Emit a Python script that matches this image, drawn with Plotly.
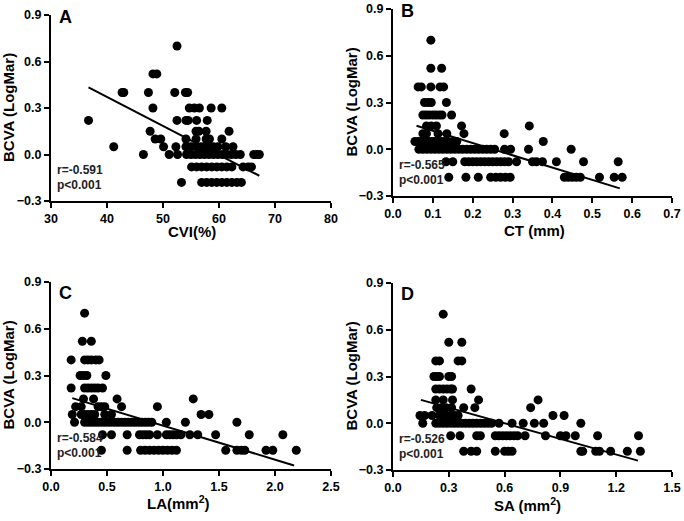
import plotly.graph_objects as go

# BCVA levels (LogMar) shared by all panels
levels = [0.70, 0.52, 0.40, 0.30, 0.22, 0.15, 0.10, 0.05, 0.00, -0.08, -0.18]

# Panel A: CVI (%) x-values for each BCVA level
cvi_by_level = [
    [52.5],
    [48.2, 48.9],
    [42.7, 43.0, 47.4, 52.1, 54.0, 54.4],
    [48.2, 54.7, 55.6, 56.5, 58.6, 60.5],
    [36.7, 52.5, 54.1, 54.5, 56.0, 57.9],
    [47.7, 55.9, 56.4, 57.7, 61.8],
    [48.6, 49.6, 54.1, 55.9, 57.7, 58.3, 60.5],
    [41.2, 50.1, 52.3, 54.1, 55.0, 56.0, 56.8, 57.5, 58.3, 59.0, 59.8, 61.2, 62.5],
    [46.5, 51.1, 52.6, 54.2, 55.0, 55.8, 56.6, 57.4, 58.2, 59.0, 59.8, 60.6, 61.4,
     62.2, 63.0, 63.8, 66.2, 66.7, 67.2],
    [55.1, 56.0, 56.9, 57.8, 58.7, 59.6, 60.5, 61.4, 62.3, 64.3, 65.2, 65.8],
    [53.3, 56.9, 57.8, 58.7, 59.6, 60.5, 61.4, 62.3, 63.2, 64.0],
]
# Panel B: CT (mm)
ct_by_level = [
    [0.095],
    [0.095, 0.122],
    [0.063, 0.071, 0.095, 0.118, 0.127],
    [0.079, 0.088, 0.096, 0.134],
    [0.075, 0.083, 0.091, 0.100, 0.108, 0.116, 0.123, 0.147],
    [0.084, 0.096, 0.109, 0.172, 0.342],
    [0.075, 0.084, 0.113, 0.135, 0.178, 0.279],
    [0.055, 0.064, 0.072, 0.080, 0.088, 0.097, 0.105, 0.113, 0.122, 0.130, 0.138,
     0.150, 0.160, 0.377],
    [0.065, 0.075, 0.085, 0.095, 0.105, 0.115, 0.125, 0.135, 0.145, 0.155, 0.165,
     0.175, 0.185, 0.195, 0.205, 0.215, 0.225, 0.235, 0.245, 0.255, 0.280, 0.295,
     0.340, 0.447],
    [0.133, 0.150, 0.180, 0.190, 0.200, 0.210, 0.220, 0.230, 0.240, 0.250, 0.260,
     0.270, 0.280, 0.290, 0.310, 0.350, 0.360, 0.375, 0.410, 0.478, 0.565],
    [0.140, 0.183, 0.214, 0.245, 0.258, 0.270, 0.282, 0.294, 0.430, 0.440, 0.450,
     0.460, 0.470, 0.518, 0.555, 0.575],
]
# Panel C: LA (mm^2)
la_by_level = [
    [0.30],
    [0.28, 0.36],
    [0.18, 0.30, 0.33, 0.36, 0.40, 0.43],
    [0.26, 0.29, 0.32, 0.49],
    [0.18, 0.30, 0.33, 0.36, 0.39, 0.42, 0.46],
    [0.29, 0.38, 0.59, 1.27],
    [0.22, 0.27, 0.42, 0.45, 0.48, 0.63, 0.95],
    [0.19, 0.27, 0.30, 0.33, 0.36, 0.39, 0.48, 0.54, 1.34, 1.41],
    [0.21, 0.30, 0.33, 0.36, 0.39, 0.42, 0.45, 0.48, 0.51, 0.54, 0.57, 0.60, 0.63,
     0.66, 0.69, 0.72, 0.75, 0.78, 0.81, 0.84, 0.87, 0.90, 1.03, 1.20, 1.66],
    [0.46, 0.54, 0.68, 0.79, 0.82, 0.85, 0.88, 0.95, 1.03, 1.06, 1.09, 1.12, 1.16,
     1.24, 1.31, 1.47, 1.77, 2.07],
    [0.45, 0.68, 0.80, 0.84, 0.88, 0.92, 0.96, 1.00, 1.04, 1.08, 1.12, 1.56, 1.66,
     1.70, 1.73, 1.92, 1.98, 2.19],
]
# Panel D: SA (mm^2)
sa_by_level = [
    [0.27],
    [0.30, 0.37],
    [0.23, 0.25, 0.35, 0.37],
    [0.22, 0.235, 0.25, 0.30, 0.315],
    [0.23, 0.25, 0.27, 0.29, 0.31, 0.32, 0.42],
    [0.23, 0.27, 0.32, 0.46, 0.78],
    [0.235, 0.26, 0.285, 0.315, 0.38, 0.44, 0.74],
    [0.145, 0.17, 0.21, 0.25, 0.27, 0.29, 0.31, 0.33, 0.35, 0.86, 0.92],
    [0.16, 0.23, 0.25, 0.27, 0.29, 0.31, 0.33, 0.35, 0.37, 0.39, 0.41, 0.43, 0.45,
     0.47, 0.49, 0.51, 0.53, 0.57, 0.64, 0.70, 0.76, 0.81, 1.01],
    [0.31, 0.36, 0.45, 0.47, 0.55, 0.57, 0.59, 0.61, 0.63, 0.65, 0.67, 0.71, 0.82,
     0.90, 0.93, 0.98, 1.10, 1.32],
    [0.38, 0.42, 0.45, 0.55, 0.60, 0.62, 0.64, 1.01, 1.02, 1.09, 1.11, 1.17, 1.26,
     1.33],
]

# Regression line end points
fit_a_x, fit_a_y = [36.7, 67.2], [0.433, -0.137]
fit_b_x, fit_b_y = [0.059, 0.569], [0.151, -0.251]
fit_c_x, fit_c_y = [0.19, 2.17], [0.155, -0.277]
fit_d_x, fit_d_y = [0.15, 1.317], [0.15, -0.24]

panel_letters = ["A", "B", "C", "D"]
y_title = "BCVA (LogMar)"
x_titles = ["CVI(%)", "CT (mm)", "LA(mm<sup>2</sup>)", "SA (mm<sup>2</sup>)"]
stats_r = ["r=-0.591", "r=-0.565", "r=-0.584", "r=-0.526"]
stats_p = ["p<0.001", "p<0.001", "p<0.001", "p<0.001"]
x_ranges = [[30, 80], [0, 0.7], [0, 2.5], [0, 1.5]]
x_dticks = [10, 0.1, 0.5, 0.3]
x_formats = ["d", ".1f", ".1f", ".1f"]

W, H = 684, 521
# plot areas in pixels (left, right, top, bottom)
areas = [(51, 331, 15, 201), (393, 672, 9, 196), (51, 331, 282, 469), (393, 672, 283, 470)]
# pixel positions of y-title centre x, x-title centre (x, y)
ytitle_px = [8, 351, 8, 351]
xtitle_px = [(192, 232), (534, 230), (178, 502), (527, 504)]

FONT = "Arial, 'Liberation Sans', sans-serif"

fig = go.Figure()
data_sets = [cvi_by_level, ct_by_level, la_by_level, sa_by_level]
fits = [(fit_a_x, fit_a_y), (fit_b_x, fit_b_y), (fit_c_x, fit_c_y), (fit_d_x, fit_d_y)]

for i in range(4):
    xs, ys = [], []
    for lv, row in zip(levels, data_sets[i]):
        xs.extend(row)
        ys.extend([lv] * len(row))
    ax = "x" if i == 0 else f"x{i+1}"
    ay = "y" if i == 0 else f"y{i+1}"
    fig.add_trace(go.Scatter(x=xs, y=ys, mode="markers", xaxis=ax, yaxis=ay,
                             marker=dict(color="black", size=9, line=dict(width=0)),
                             showlegend=False, cliponaxis=False))
    fig.add_trace(go.Scatter(x=fits[i][0], y=fits[i][1], mode="lines", xaxis=ax, yaxis=ay,
                             line=dict(color="black", width=2), showlegend=False))

layout = dict(width=W, height=H, margin=dict(l=0, r=0, t=0, b=0, autoexpand=False),
              paper_bgcolor="white", plot_bgcolor="white",
              font=dict(family=FONT, color="black"))
annotations = []
for i in range(4):
    l, r, t, b = areas[i]
    xd = [l / W, r / W]
    yd = [1 - b / H, 1 - t / H]
    sfx = "" if i == 0 else str(i + 1)
    common = dict(showline=True, linecolor="black", linewidth=2, ticks="outside", ticklen=5,
                  tickwidth=2, tickcolor="black", showgrid=False, zeroline=False,
                  automargin=False, tickfont=dict(size=12.5, weight="bold", family=FONT))
    layout["xaxis" + sfx] = dict(domain=xd, range=x_ranges[i], dtick=x_dticks[i], tick0=0,
                                 tickformat=x_formats[i], anchor="y" + sfx, **common)
    layout["yaxis" + sfx] = dict(domain=yd, range=[-0.3, 0.9], dtick=0.3, tick0=0,
                                 tickformat=".1f", anchor="x" + sfx, **common)
    xr = ("x" + sfx) + " domain"
    yr = ("y" + sfx) + " domain"
    h = b - t
    annotations.append(dict(text=panel_letters[i], xref=xr, yref=yr, x=14 / (r - l),
                            y=(h - 2) / h if i < 2 else (h - 11) / h,
                            xanchor="center", yanchor="middle", showarrow=False,
                            font=dict(size=18, weight="bold", family=FONT)))
    annotations.append(dict(text=stats_r[i], xref=xr, yref=yr, x=4 / (r - l), y=31 / h,
                            xanchor="left", yanchor="middle", showarrow=False,
                            font=dict(size=12, weight="bold", family=FONT, color="#222")))
    annotations.append(dict(text=stats_p[i], xref=xr, yref=yr, x=4 / (r - l), y=16 / h,
                            xanchor="left", yanchor="middle", showarrow=False,
                            font=dict(size=12, weight="bold", family=FONT, color="#222")))
    annotations.append(dict(text=y_title, xref="paper", yref=yr, x=ytitle_px[i] / W, y=0.5,
                            xanchor="center", yanchor="middle", textangle=-90, showarrow=False,
                            font=dict(size=15, weight="bold", family=FONT)))
    annotations.append(dict(text=x_titles[i], xref="paper", yref="paper",
                            x=xtitle_px[i][0] / W, y=1 - xtitle_px[i][1] / H,
                            xanchor="center", yanchor="middle", showarrow=False,
                            font=dict(size=15, weight="bold", family=FONT)))
layout["annotations"] = annotations
fig.update_layout(**layout)
fig.write_html("out.html", config={"displayModeBar": False},
               post_script="document.body.style.margin='0';")
